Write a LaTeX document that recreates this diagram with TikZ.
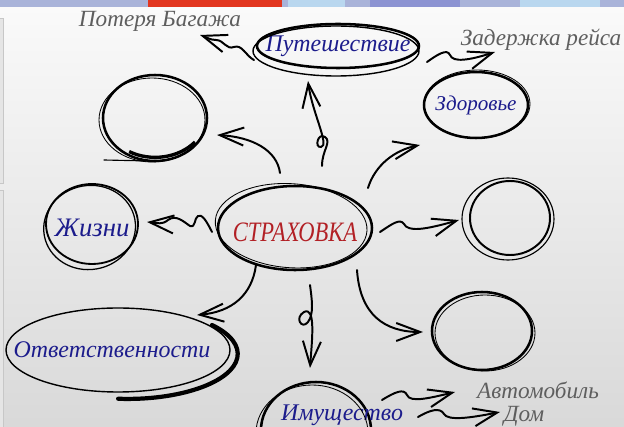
\documentclass[tikz,border=0pt]{standalone}
\usepackage{fontspec}
\setmainfont{Liberation Serif}
\usepackage{tikz}
\usetikzlibrary{positioning,calc,shapes.geometric,arrows.meta}
\definecolor{inkblue}{HTML}{1C1C8C}
\definecolor{inkred}{HTML}{B22025}
\definecolor{inkgray}{HTML}{5E5E5E}
\definecolor{bandblue}{HTML}{A9B3D9}
\definecolor{bandred}{HTML}{E2361F}
\definecolor{bandsky}{HTML}{B9D7EF}
\definecolor{bandnavy}{HTML}{8C93D2}
\tikzset{>=stealth}
\tikzset{
  bubble/.style={ellipse,draw,line width=1.8pt,inner sep=0pt},
  stroke/.style={line width=0.6pt},
  link/.style={line width=1.4pt,line cap=round,-{Straight Barb[length=6mm,width=4.5mm]}},
  topic/.style={text=inkblue,font=\fontsize{17}{17}\selectfont\itshape},
  note/.style={text=inkgray,font=\fontsize{16.5}{16.5}\selectfont\itshape},
  hot/.style={text=inkred,font=\fontsize{16}{16}\selectfont\itshape},
}

\begin{document}
\begin{tikzpicture}[x=0.25mm,y=-0.25mm]
\useasboundingbox (0,0) rectangle (624,427);
% background
\shade[top color=white!98!black,bottom color=black!15] (0,7) rectangle (624,427);
\fill[bandblue] (0,0) rectangle (624,7);
\fill[bandred] (148,0) rectangle (282,7);
\fill[bandsky] (288,0) rectangle (345,7);
\fill[bandnavy] (370,0) rectangle (460,7);
\fill[bandsky] (520,0) rectangle (600,7);
\fill[black!10,draw=black!22] (-1,18) rectangle (3,183);
\fill[black!10,draw=black!22] (-1,190) rectangle (3,428);

% bubbles
\node[bubble,minimum width=38.5mm,minimum height=21mm,
  label={[hot,yshift=-1mm]center:\scalebox{1}[1.25]{СТРАХОВКА}}] (ins) at (295,228) {};
\draw[stroke,rotate around={-4:(ins)}] ([shift={(-4,-2)}]ins.center) ellipse [x radius=76,y radius=42];

\node[bubble,minimum width=40.5mm,minimum height=11mm,
  label={[topic]center:Путешествие}] (trip) at (338,46) {};
\draw[line width=1pt] ([shift={(-2,5)}]trip.center) ellipse [x radius=83,y radius=25];

\node[bubble,minimum width=26mm,minimum height=16.5mm,
  label={[topic,font=\fontsize{15}{15}\selectfont\itshape]center:Здоровье}] (health) at (476,105) {};
\draw[stroke] ([shift={(1,-1)}]health.center) ellipse [x radius=53,y radius=34];

\node[bubble,minimum width=26mm,minimum height=21.5mm] (blankA) at (155,118) {};
\draw[stroke] ([shift={(-3,2)}]blankA.center) ellipse [x radius=53,y radius=42];
\draw[line width=2.4pt] (195,142) arc [start angle=40,end angle=120,x radius=52,y radius=43];
\draw[line width=0.8pt,line cap=round] (150,161) -- (104,160);

\node[bubble,line width=1.3pt,minimum width=23mm,minimum height=20mm,
  label={[topic,font=\fontsize{19}{19}\selectfont\itshape,yshift=-1mm]center:Жизни}] (life) at (92,224) {};
\draw[line width=0.9pt,rotate around={10:(life)}] ([shift={(-3,3)}]life.center) ellipse [x radius=46,y radius=42];

\node[bubble,line width=1.4pt,minimum width=20mm,minimum height=18.5mm] (blankB) at (510,218) {};
\draw[line width=0.8pt] ([shift={(-2,1)}]blankB.center) ellipse [x radius=46,y radius=41];

\node[bubble,minimum width=25mm,minimum height=19.5mm] (blankC) at (482,331) {};
\draw[stroke] ([shift={(3,2)}]blankC.center) ellipse [x radius=50,y radius=38];

\node[bubble,line width=1pt,minimum width=56mm,minimum height=21mm,
  label={[topic,xshift=-1.5mm]center:Ответственности}] (duty) at (118,350) {};
\draw[line width=3pt,line cap=round] (212,325) arc [start angle=-40,end angle=95,x radius=110,y radius=45];

\node[bubble,minimum width=27.5mm,minimum height=24mm,
  label={[topic,xshift=6.5mm,yshift=3.75mm]center:Имущество}] (prop) at (316,430) {};
\draw[stroke] ([shift={(-4,3)}]prop.center) ellipse [x radius=56,y radius=48];

% notes
\node[note] (lost) at (160,21) {Потеря Багажа};
\node[note] (delay) at (541,40) {Задержка рейса};
\node[note] (car) at (538,390) {Автомобиль};
\node[note] (home) at (524,416) {Дом};

% links
\draw[link] ([shift={(27,-62)}]ins.center) .. controls (322,150) and (332,142) .. (325,137)
  .. controls (318,132) and (314,148) .. (321,147)
  .. controls (330,146) and (312,112) .. ([shift={(-30,35)}]trip.center);
\draw[link] ([shift={(-15,-55)}]ins.center) .. controls (277,150) and (252,137) .. ([shift={(62,17)}]blankA.center);
\draw[link] ([shift={(73,-40)}]ins.center) .. controls (375,165) and (395,150) .. ([shift={(-56,40)}]health.center);
\draw[link] ([shift={(-83,4)}]ins.center) .. controls (206,220) and (202,214) .. (198,216)
  .. controls (194,218) and (196,228) .. (190,226)
  .. controls (184,222) and (176,214) .. (168,220)
  .. controls (162,225) and (158,223) .. ([shift={(55,-2)}]life.center);
\draw[link] ([shift={(85,4)}]ins.center) .. controls (392,224) and (400,218) .. (404,224)
  .. controls (408,232) and (424,230) .. ([shift={(-51,2)}]blankB.center);
\draw[link] ([shift={(62,42)}]ins.center) .. controls (360,315) and (385,332) .. ([shift={(-59,1)}]blankC.center);
\draw[link] ([shift={(15,57)}]ins.center) .. controls (312,300) and (314,314) .. (308,322)
  .. controls (302,330) and (294,318) .. (304,312)
  .. controls (316,306) and (312,340) .. ([shift={(-6,-62)}]prop.center);
\draw[link] ([shift={(-39,37)}]ins.center) .. controls (252,295) and (232,312) .. ([shift={(79,-35)}]duty.center);

\draw[link] ([shift={(-84,14)}]trip.center) .. controls (246,56) and (242,44) .. (234,47)
  .. controls (226,50) and (224,40) .. (216,40)
  .. controls (210,40) and (206,37) .. ([shift={(40,14)}]lost.center);
\draw[link] ([shift={(89,16)}]trip.center) .. controls (437,55) and (447,48) .. (450,55)
  .. controls (453,63) and (470,60) .. ([shift={(-46,12)}]delay.center);
\draw[link] ([shift={(66,-30)}]prop.center) .. controls (395,392) and (404,388) .. (407,395)
  .. controls (410,403) and (430,398) .. ([shift={(-83,2)}]car.center);
\draw[link] ([shift={(102,-13)}]prop.center) .. controls (430,410) and (440,407) .. (444,414)
  .. controls (448,421) and (470,418) .. ([shift={(-24,-4)}]home.center);
\end{tikzpicture}
\end{document}
